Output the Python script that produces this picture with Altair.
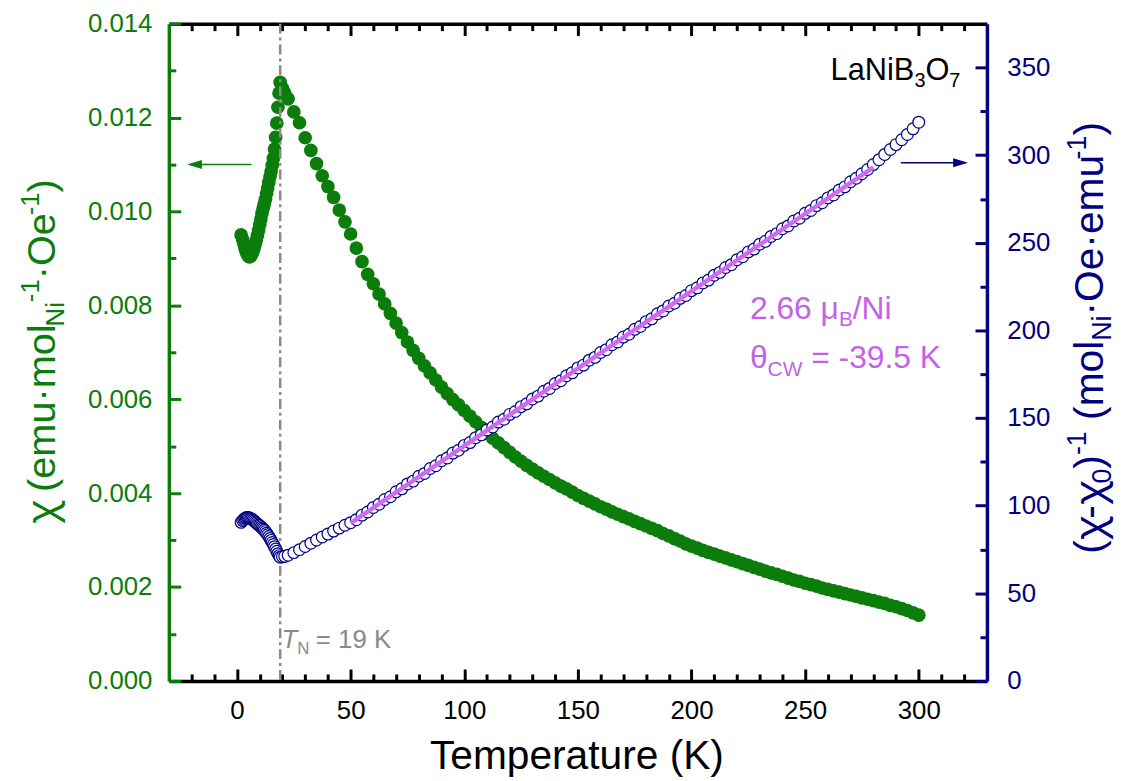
import altair as alt
import pandas as pd

FONT = "Liberation Sans"
GFONT = "Noto Sans"
GREEN = "#0a7d0a"
NAVY = "#000080"
MAG = "#d06af2"
MAGT = "#c462e6"
GRAY = "#8a8a8a"

# ---------------- data ----------------
T_low = [1.8, 2.5, 3.0, 3.5, 4.0, 4.5, 5.0, 5.5, 6.0, 6.5, 7.0, 7.5, 8.0, 8.5,
         9.0, 9.5, 10.0, 10.5, 11.0, 11.5, 12.0, 12.5, 13.0, 13.5, 14.0, 14.5,
         15.0, 15.5, 16.0, 16.5, 17.0, 17.5, 18.0, 18.5, 19.0]
chi_low = [0.00950, 0.00940, 0.00931, 0.00922, 0.00915, 0.00909, 0.00905, 0.00903,
           0.00905, 0.00909, 0.00915, 0.00922, 0.00930, 0.00939, 0.00949, 0.00960,
           0.00972, 0.00984, 0.00996, 0.01007, 0.01016, 0.01026, 0.01038, 0.01050,
           0.01062, 0.01074, 0.01085, 0.01098, 0.01113, 0.01133, 0.01158, 0.01188,
           0.01222, 0.01252, 0.01275]
inv_low = [90.5, 91.5, 92.2, 92.8, 93.1, 93.3, 93.2, 93.0, 92.7, 92.3, 91.8, 91.3,
           90.7, 90.1, 89.5, 89.0, 88.5, 87.9, 87.3, 86.7, 86.0, 85.2, 84.3, 83.4,
           82.4, 81.3, 80.2, 79.0, 77.8, 76.6, 75.3, 74.0, 72.6, 71.5, 70.6]

T_high = [20, 21, 22.5, 25, 27.5, 30, 32.5, 35, 37.5, 40, 42.5, 45, 47.5, 50,
          52.5, 55, 57.5, 60, 62.5, 65, 67.5, 70, 72.5, 75, 77.5, 80, 82.5, 85,
          87.5, 90, 92.5, 95, 97.5, 100, 102.5, 105, 107.5, 110, 112.5, 115, 117.5,
          120, 122.5, 125, 127.5, 130, 132.5, 135, 137.5, 140, 142.5, 145, 147.5,
          150, 152.5, 155, 157.5, 160, 162.5, 165, 167.5, 170, 172.5, 175, 177.5,
          180, 182.5, 185, 187.5, 190, 192.5, 195, 197.5, 200, 202.5, 205, 207.5,
          210, 212.5, 215, 217.5, 220, 222.5, 225, 227.5, 230, 232.5, 235, 237.5,
          240, 242.5, 245, 247.5, 250, 252.5, 255, 257.5, 260, 262.5, 265, 267.5,
          270, 272.5, 275, 277.5, 280, 282.5, 285, 287.5, 290, 292.5, 295, 297.5, 300]
chi_high = [0.01262, 0.01252, 0.01240, 0.01212, 0.01189, 0.01157, 0.01130, 0.01102,
            0.01076, 0.01053, 0.01030, 0.01003, 0.00978, 0.00952, 0.00922, 0.00893,
            0.00866, 0.00846, 0.00824, 0.00803, 0.00783, 0.00762, 0.00742, 0.00722,
            0.00704, 0.00687, 0.00671, 0.00656, 0.00641, 0.00626, 0.00612, 0.00599,
            0.00588, 0.00576, 0.00564, 0.00552, 0.00540, 0.00528, 0.00517, 0.00507,
            0.00497, 0.00487, 0.00477, 0.00468, 0.00459, 0.00451, 0.00443, 0.00436,
            0.00429, 0.00422, 0.00415, 0.00409, 0.00402, 0.00395, 0.00389, 0.00383,
            0.00377, 0.00371, 0.00366, 0.00360, 0.00355, 0.00350, 0.00345, 0.00340,
            0.00335, 0.00330, 0.00325, 0.00320, 0.00314, 0.00309, 0.00303, 0.00298,
            0.00292, 0.00287, 0.00283, 0.00278, 0.00274, 0.00270, 0.00266, 0.00262,
            0.00258, 0.00254, 0.00250, 0.00246, 0.00242, 0.00238, 0.00234, 0.00230,
            0.00227, 0.00223, 0.00219, 0.00215, 0.00212, 0.00208, 0.00205, 0.00202,
            0.00198, 0.00195, 0.00192, 0.00189, 0.00186, 0.00183, 0.00180, 0.00177,
            0.00174, 0.00171, 0.00168, 0.00165, 0.00161, 0.00158, 0.00154, 0.00150,
            0.00145, 0.00140]
inv_high = [70.8, 71.1, 71.7, 73.2, 74.9, 76.7, 78.6, 80.4, 82.1, 83.8, 85.5, 87.2,
            88.8, 90.3, 92.0, 94.6, 96.4, 99.0, 100.8, 103.5, 105.1, 107.9, 109.6,
            112.4, 114.0, 116.8, 118.4, 121.2, 122.8, 125.6, 127.2, 130.0, 131.6,
            134.4, 136.0, 138.8, 140.4, 143.2, 144.9, 147.7, 149.3, 152.1, 153.7,
            156.5, 158.1, 160.9, 162.5, 165.3, 166.9, 169.7, 171.3, 174.1, 175.8,
            178.6, 180.2, 183.0, 184.6, 187.4, 189.0, 191.8, 193.4, 196.2, 197.8,
            200.6, 202.2, 205.0, 206.6, 209.5, 211.1, 213.9, 215.5, 218.3, 219.9,
            222.7, 224.3, 227.1, 228.7, 231.5, 233.1, 235.9, 237.5, 240.3, 242.0,
            244.8, 246.4, 249.2, 250.8, 253.6, 255.2, 258.0, 259.6, 262.4, 264.0,
            266.8, 268.4, 271.2, 272.8, 275.6, 277.3, 280.1, 281.9, 284.8, 286.8,
            289.4, 291.8, 294.6, 297.4, 300.4, 303.2, 306.0, 308.8, 311.8, 315.0, 318.8]

fit_T = [50, 280]
fit_inv = [90.0, 293.0]

T_N = [19]

x_major = [0, 50, 100, 150, 200, 250, 300]
x_minor = [-20, -10, 10, 20, 30, 40, 60, 70, 80, 90, 110, 120, 130, 140, 160, 170,
           180, 190, 210, 220, 230, 240, 260, 270, 280, 290, 310, 320]
yl_major = [0.0, 0.002, 0.004, 0.006, 0.008, 0.010, 0.012, 0.014]
yl_minor = [0.001, 0.003, 0.005, 0.007, 0.009, 0.011, 0.013]
yr_major = [0, 50, 100, 150, 200, 250, 300, 350]
yr_minor = [25, 75, 125, 175, 225, 275, 325]

df = pd.DataFrame({
    "T": T_low + T_high,
    "chi": chi_low + chi_high,
    "inv": inv_low + inv_high,
})
fit_df = pd.DataFrame({"T": fit_T, "inv": fit_inv})
tn_df = pd.DataFrame({"T": T_N})

# ---------------- scales / axes ----------------
xs = alt.Scale(domain=[-30, 330], nice=False, zero=False)
yls = alt.Scale(domain=[0, 0.014], nice=False, zero=False)
yrs = alt.Scale(domain=[0, 375], nice=False, zero=False)

MAJ, MIN = 12, 7


def ax(orient, values, size, color, labels=False, domain=False, fmt=None, pad=0):
    kw = dict(orient=orient, values=values, tickSize=alt.ExprRef(expr=str(-size)),
              tickWidth=3, tickColor=color, ticks=True, grid=False, title=None,
              labels=labels, domain=domain)
    if domain:
        kw.update(domainColor=color, domainWidth=3.5)
    if labels:
        kw.update(format=fmt, labelFont=FONT, labelFontSize=26, labelColor=color,
                  labelPadding=pad)
    return alt.Axis(**kw)


X = lambda axis: alt.X("T:Q", scale=xs, axis=axis)
YL = lambda axis: alt.Y("chi:Q", scale=yls, axis=axis)
YR = lambda axis: alt.Y("inv:Q", scale=yrs, axis=axis)

base = alt.Chart(df)

green = base.mark_circle(size=190, color=GREEN, opacity=1).encode(
    x=X(ax("bottom", x_major, MAJ, "black", labels=True, domain=True, fmt="d", pad=29)),
    y=YL(ax("left", yl_major, MAJ, GREEN, labels=True, domain=True, fmt=".3f", pad=29)),
)
c1 = base.mark_point(opacity=0).encode(
    x=X(ax("bottom", x_minor, MIN, "black")),
    y=YL(ax("left", yl_minor, MIN, GREEN)),
)
c2 = base.mark_point(opacity=0).encode(
    x=X(ax("top", x_major, MAJ, "black", domain=True)), y=YL(None))
c3 = base.mark_point(opacity=0).encode(
    x=X(ax("top", x_minor, MIN, "black")), y=YL(None))

tn_rule = alt.Chart(tn_df).mark_rule(color=GRAY, strokeWidth=2.5,
                                     strokeDash=[10, 4, 3, 4]).encode(x=X(None))

navy = base.mark_point(shape="circle", size=140, filled=True, fill="white",
                       stroke=NAVY, strokeWidth=1.2, opacity=1).encode(
    x=X(None),
    y=YR(ax("right", yr_major, MAJ, NAVY, labels=True, domain=True, fmt="d", pad=32)),
)
c4 = base.mark_point(opacity=0).encode(
    x=X(None), y=YR(ax("right", yr_minor, MIN, NAVY)))

fit = alt.Chart(fit_df).mark_line(color=MAG, strokeWidth=4.5, opacity=1).encode(
    x=X(None), y=YR(None))

# arrows
arr_g = pd.DataFrame({"T": [-18.7], "T2": [6.4], "chi": [0.011]})
arr_g_line = alt.Chart(arr_g).mark_rule(color=GREEN, strokeWidth=1.5).encode(
    x=X(None), x2="T2:Q", y=YL(None))
arr_g_head = alt.Chart(arr_g).mark_point(shape="M-1,0L1,-0.6L1,0.6Z", size=225,
                                          filled=True, color=GREEN, opacity=1,
                                          strokeWidth=0).encode(x=X(None), y=YL(None))
arr_n = pd.DataFrame({"T": [292.1], "T2": [318.4], "inv": [295.7]})
arr_n_line = alt.Chart(arr_n).mark_rule(color=NAVY, strokeWidth=1.5).encode(
    x=X(None), x2="T2:Q", y=YR(None))
arr_n_head = alt.Chart(arr_n[["T2", "inv"]].rename(columns={"T2": "T"})).mark_point(
    shape="M1,0L-1,-0.6L-1,0.6Z", size=225, filled=True, color=NAVY, opacity=1,
    strokeWidth=0).encode(x=X(None), y=YR(None))


def segs(pos, pieces, color, angle=None, xe=None, ye=None):
    out = []
    d = pd.DataFrame(pos)
    for piece in pieces:
        text, dx, dy, size, style = piece[:5]
        font = piece[5] if len(piece) > 5 else FONT
        kw = dict(text=text, dx=dx, dy=dy, fontSize=size, font=font, color=color,
                  align="left", baseline="alphabetic", fontStyle=style)
        if angle is not None:
            kw["angle"] = angle
        out.append(alt.Chart(d).mark_text(**kw).encode(x=xe, y=ye))
    return out


one = {"a": [0]}
N = "normal"

ann = []
ann += segs({"T": [261.2], "chi": [0.012794]},
            [("LaNiB", 0, 0, 31, N), ("3", 84.4, 7, 20, N), ("O", 95.5, 0, 31, N),
             ("7", 119.6, 7, 20, N)], "black", xe=X(None), ye=YL(None))
ann += segs({"T": [225.7], "chi": [0.007719]},
            [("2.66 μ", 0, 0, 32, N), ("B", 89.6, 8, 21, N), ("/Ni", 103.6, 0, 32, N)],
            MAGT, xe=X(None), ye=YL(None))
ann += segs({"T": [225.7], "chi": [0.006662]},
            [("θ", 0, 0, 32, N), ("CW", 17.8, 8, 21, N), ("= -39.5 K", 61.7, 0, 32, N)],
            MAGT, xe=X(None), ye=YL(None))
ann += segs({"T": [19.6], "chi": [0.000698]},
            [("T", 0, 0, 26, "italic"), ("N", 15.9, 6, 17, N), ("= 19 K", 34.5, 0, 26, N)],
            GRAY, xe=X(None), ye=YL(None))

# axis titles
ann.append(alt.Chart(pd.DataFrame(one)).mark_text(
    text="Temperature (K)", fontSize=41, font=FONT, color="black", align="center",
    baseline="alphabetic").encode(x=alt.value(411), y=alt.value(751)))
ann += segs(one,
            [("χ", 0, 0, 40, N, GFONT), ("(emu·mol", 32.3, 0, 40, N),
             ("Ni", 199, 9, 26, N), ("-1", 223.5, -16, 26, N),
             ("·Oe", 246.5, 0, 40, N), ("-1", 311, -16, 26, N), (")", 334, 0, 40, N)],
            GREEN, angle=270, xe=alt.value(-115), ye=alt.value(504))
ann += segs(one,
            [("(", 0, 0, 41, N), ("χ", 13.7, 0, 41, N, GFONT), ("-", 35.4, 0, 41, N),
             ("χ", 49.1, 0, 41, N, GFONT), ("0", 70.8, 8, 27, N), (")", 85.8, 0, 41, N),
             ("-1", 99.5, -17, 27, N), ("(mol", 134.9, 0, 41, N), ("Ni", 214.6, 8, 27, N),
             ("·Oe·emu", 240.1, 0, 41, N), ("-1", 397.3, -17, 27, N), (")", 421.3, 0, 41, N)],
            NAVY, angle=270, xe=alt.value(941), ye=alt.value(534))

left = alt.layer(green, c1, c2, c3, tn_rule, arr_g_line, arr_g_head, *ann).resolve_axis(
    x="independent", y="independent")
right = alt.layer(navy, c4, arr_n_line, arr_n_head).resolve_axis(
    x="independent", y="independent")
top = alt.layer(fit)

chart = alt.layer(left, right, top).resolve_scale(y="independent").resolve_axis(
    x="independent", y="independent").properties(
    width=824, height=662,
    autosize=alt.AutoSizeParams(type="none"),
    padding={"left": 162, "top": 13, "right": 131, "bottom": 97},
).configure_view(strokeWidth=0)

chart.save("out.html", embed_options={"renderer": "svg", "actions": False})
